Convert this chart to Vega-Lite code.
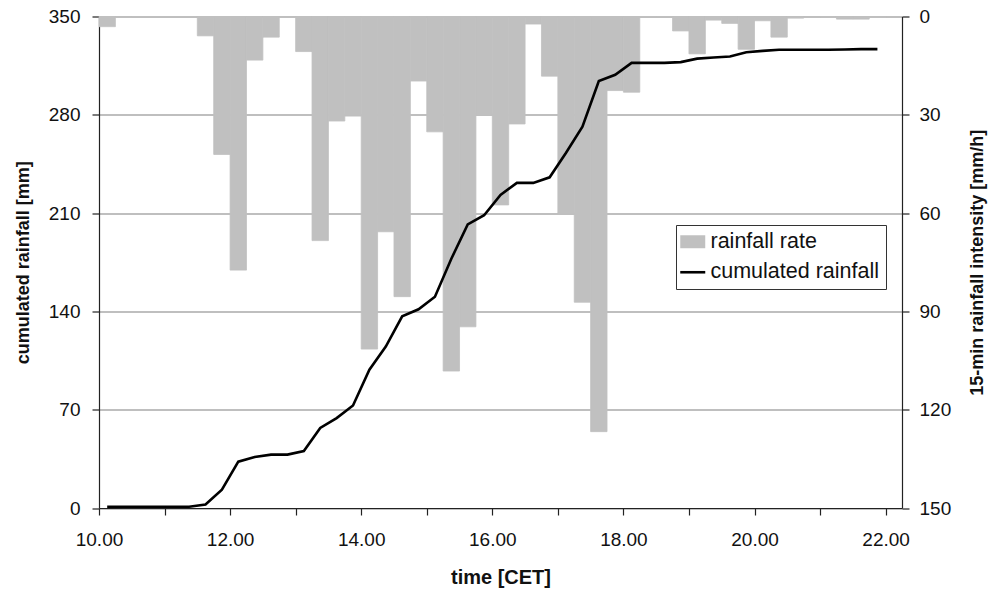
{
  "$schema": "https://vega.github.io/schema/vega-lite/v6.json",
  "width": 803,
  "height": 491.5,
  "autosize": {"type": "none"},
  "padding": {"left": 99, "top": 16.5, "right": 90, "bottom": 88},
  "background": "white",
  "config": {
    "view": {"stroke": null},
    "font": "Liberation Sans",
    "axis": {
      "labelFont": "Liberation Sans",
      "labelFontSize": 19,
      "labelColor": "#111111",
      "titleFont": "Liberation Sans",
      "titleFontSize": 18,
      "titleFontWeight": "bold",
      "titleColor": "#111111",
      "domainColor": "#222222",
      "domainWidth": 1.2,
      "tickColor": "#222222",
      "tickWidth": 1.2,
      "tickSize": 7
    },
    "legend": {"labelFont": "Liberation Sans", "labelFontSize": 21.5, "labelColor": "#111111", "labelLimit": 400}
  },
  "datasets": {
    "rate": [
      {"start": 10.0, "end": 10.25, "intensity": 3.1},
      {"start": 10.25, "end": 10.5, "intensity": 0.3},
      {"start": 10.5, "end": 10.75, "intensity": 0},
      {"start": 10.75, "end": 11.0, "intensity": 0},
      {"start": 11.0, "end": 11.25, "intensity": 0},
      {"start": 11.25, "end": 11.5, "intensity": 0},
      {"start": 11.5, "end": 11.75, "intensity": 5.9},
      {"start": 11.75, "end": 12.0, "intensity": 42.1},
      {"start": 12.0, "end": 12.25, "intensity": 77.4},
      {"start": 12.25, "end": 12.5, "intensity": 13.3},
      {"start": 12.5, "end": 12.75, "intensity": 6.3},
      {"start": 12.75, "end": 13.0, "intensity": 0.3},
      {"start": 13.0, "end": 13.25, "intensity": 10.7},
      {"start": 13.25, "end": 13.5, "intensity": 68.4},
      {"start": 13.5, "end": 13.75, "intensity": 31.9},
      {"start": 13.75, "end": 14.0, "intensity": 30.4},
      {"start": 14.0, "end": 14.25, "intensity": 101.5},
      {"start": 14.25, "end": 14.5, "intensity": 65.7},
      {"start": 14.5, "end": 14.75, "intensity": 85.5},
      {"start": 14.75, "end": 15.0, "intensity": 19.7},
      {"start": 15.0, "end": 15.25, "intensity": 35.2},
      {"start": 15.25, "end": 15.5, "intensity": 108.2},
      {"start": 15.5, "end": 15.75, "intensity": 94.7},
      {"start": 15.75, "end": 16.0, "intensity": 29.8},
      {"start": 16.0, "end": 16.25, "intensity": 57.5},
      {"start": 16.25, "end": 16.5, "intensity": 32.8},
      {"start": 16.5, "end": 16.75, "intensity": 2.3},
      {"start": 16.75, "end": 17.0, "intensity": 18.2},
      {"start": 17.0, "end": 17.25, "intensity": 60.0},
      {"start": 17.25, "end": 17.5, "intensity": 87.2},
      {"start": 17.5, "end": 17.75, "intensity": 126.7},
      {"start": 17.75, "end": 18.0, "intensity": 22.6},
      {"start": 18.0, "end": 18.25, "intensity": 23.1},
      {"start": 18.25, "end": 18.5, "intensity": 0},
      {"start": 18.5, "end": 18.75, "intensity": 0},
      {"start": 18.75, "end": 19.0, "intensity": 4.4},
      {"start": 19.0, "end": 19.25, "intensity": 11.4},
      {"start": 19.25, "end": 19.5, "intensity": 1.1},
      {"start": 19.5, "end": 19.75, "intensity": 2.1},
      {"start": 19.75, "end": 20.0, "intensity": 10.0},
      {"start": 20.0, "end": 20.25, "intensity": 1.3},
      {"start": 20.25, "end": 20.5, "intensity": 6.3},
      {"start": 20.5, "end": 20.75, "intensity": 0.5},
      {"start": 20.75, "end": 21.0, "intensity": 0.3},
      {"start": 21.0, "end": 21.25, "intensity": 0.2},
      {"start": 21.25, "end": 21.5, "intensity": 0.8},
      {"start": 21.5, "end": 21.75, "intensity": 0.8},
      {"start": 21.75, "end": 22.0, "intensity": 0.3}
    ],
    "cum": [
      {"time": 10.125, "cum": 0.8},
      {"time": 10.375, "cum": 0.9},
      {"time": 10.625, "cum": 0.9},
      {"time": 10.875, "cum": 0.9},
      {"time": 11.125, "cum": 0.9},
      {"time": 11.375, "cum": 0.9},
      {"time": 11.625, "cum": 2.5},
      {"time": 11.875, "cum": 13},
      {"time": 12.125, "cum": 33},
      {"time": 12.375, "cum": 36.3},
      {"time": 12.625, "cum": 38},
      {"time": 12.875, "cum": 38},
      {"time": 13.125, "cum": 40.6},
      {"time": 13.375, "cum": 57},
      {"time": 13.625, "cum": 64},
      {"time": 13.875, "cum": 73},
      {"time": 14.125, "cum": 98.5},
      {"time": 14.375, "cum": 115},
      {"time": 14.625, "cum": 136.5},
      {"time": 14.875, "cum": 141.5},
      {"time": 15.125, "cum": 150.5},
      {"time": 15.375, "cum": 177.5},
      {"time": 15.625, "cum": 202},
      {"time": 15.875, "cum": 208.5},
      {"time": 16.125, "cum": 223},
      {"time": 16.375, "cum": 231.5},
      {"time": 16.625, "cum": 231.5},
      {"time": 16.875, "cum": 235.5},
      {"time": 17.125, "cum": 253},
      {"time": 17.375, "cum": 271.5},
      {"time": 17.625, "cum": 304},
      {"time": 17.875, "cum": 308.5},
      {"time": 18.125, "cum": 317},
      {"time": 18.375, "cum": 317},
      {"time": 18.625, "cum": 317},
      {"time": 18.875, "cum": 317.5},
      {"time": 19.125, "cum": 320},
      {"time": 19.375, "cum": 320.8},
      {"time": 19.625, "cum": 321.5},
      {"time": 19.875, "cum": 324.5},
      {"time": 20.125, "cum": 325.5},
      {"time": 20.375, "cum": 326.3},
      {"time": 20.625, "cum": 326.3},
      {"time": 20.875, "cum": 326.3},
      {"time": 21.125, "cum": 326.3},
      {"time": 21.375, "cum": 326.5},
      {"time": 21.625, "cum": 326.8},
      {"time": 21.875, "cum": 326.8}
    ]
  },
  "layer": [
    {
      "data": {"name": "rate"},
      "mark": {"type": "bar", "stroke": "#c0c0c0", "strokeWidth": 0.8},
      "encoding": {
        "x": {
          "field": "start",
          "type": "quantitative",
          "scale": {"domain": [10, 22.25], "nice": false, "zero": false},
          "axis": {
            "values": [10, 11, 12, 13, 14, 15, 16, 17, 18, 19, 20, 21, 22],
            "labelExpr": "datum.value % 2 == 0 ? format(datum.value, '.2f') : ''",
            "grid": false,
            "labelPadding": 15,
            "labelFlush": false,
            "labelOverlap": false,
            "title": "time [CET]",
            "titleFontSize": 20,
            "titlePadding": 18
          }
        },
        "x2": {"field": "end"},
        "y": {
          "field": "intensity",
          "type": "quantitative",
          "scale": {"domain": [0, 150], "reverse": true, "nice": false},
          "axis": {
            "orient": "right",
            "values": [0, 30, 60, 90, 120, 150],
            "grid": false,
            "labelPadding": 10,
            "title": "15-min rainfall intensity [mm/h]",
            "titleAngle": -90,
            "titlePadding": 36
          }
        },
        "y2": {"datum": 0},
        "color": {
          "datum": "rainfall rate",
          "type": "nominal",
          "scale": {"domain": ["rainfall rate", "cumulated rainfall"], "range": ["#c0c0c0", "#000000"]},
          "legend": {
            "title": null,
            "orient": "none",
            "legendX": 577,
            "legendY": 208.5,
            "padding": 6,
            "rowPadding": 7.5,
            "fillColor": "white",
            "strokeColor": "#333333",
            "labelOffset": 7,
            "labelLimit": 400,
            "symbolSize": 625,
            "encode": {
              "symbols": {
                "update": {
                  "shape": {"signal": "datum.value === 'rainfall rate' ? 'M-1,-0.52H1V0.52H-1Z' : 'M-1,0H1'"},
                  "fill": {"signal": "datum.value === 'rainfall rate' ? '#c0c0c0' : 'transparent'"},
                  "stroke": {"signal": "datum.value === 'rainfall rate' ? '#c0c0c0' : '#000000'"},
                  "strokeWidth": {"signal": "datum.value === 'rainfall rate' ? 0 : 2.6"},
                  "size": {"value": 625},
                  "opacity": {"value": 1}
                }
              }
            }
          }
        }
      }
    },
    {
      "data": {"name": "cum"},
      "mark": {"type": "line", "strokeWidth": 2.6, "interpolate": "linear"},
      "encoding": {
        "x": {"field": "time", "type": "quantitative"},
        "y": {
          "field": "cum",
          "type": "quantitative",
          "scale": {"domain": [0, 350], "nice": false},
          "axis": {
            "orient": "left",
            "values": [0, 70, 140, 210, 280, 350],
            "grid": true,
            "gridColor": "#808080",
            "gridWidth": 1.2,
            "labelPadding": 12,
            "title": "cumulated rainfall [mm]",
            "titlePadding": 16
          }
        },
        "color": {
          "datum": "cumulated rainfall",
          "type": "nominal",
          "legend": {
            "title": null,
            "orient": "none",
            "legendX": 577,
            "legendY": 208.5,
            "padding": 6,
            "rowPadding": 7.5,
            "fillColor": "white",
            "strokeColor": "#333333",
            "labelOffset": 7,
            "labelLimit": 400,
            "symbolSize": 625,
            "encode": {
              "symbols": {
                "update": {
                  "shape": {"signal": "datum.value === 'rainfall rate' ? 'M-1,-0.52H1V0.52H-1Z' : 'M-1,0H1'"},
                  "fill": {"signal": "datum.value === 'rainfall rate' ? '#c0c0c0' : 'transparent'"},
                  "stroke": {"signal": "datum.value === 'rainfall rate' ? '#c0c0c0' : '#000000'"},
                  "strokeWidth": {"signal": "datum.value === 'rainfall rate' ? 0 : 2.6"},
                  "size": {"value": 625},
                  "opacity": {"value": 1}
                }
              }
            }
          }
        }
      }
    }
  ],
  "resolve": {"scale": {"y": "independent"}}
}
